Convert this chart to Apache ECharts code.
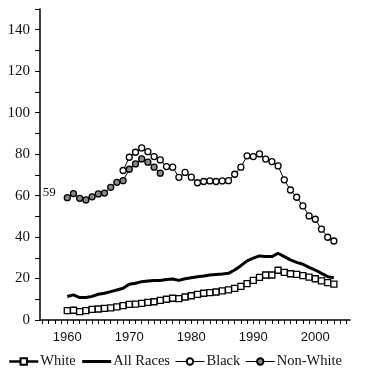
<!DOCTYPE html>
<html><head><meta charset="utf-8">
<script src="https://cdn.jsdelivr.net/npm/echarts@6/dist/echarts.min.js"></script>
<style>html,body{margin:0;padding:0;background:#fff}#c{width:366px;height:376px}</style>
</head><body><div id="c"></div>
<script>
const years = [1960,1961,1962,1963,1964,1965,1966,1967,1968,1969,1970,1971,1972,1973,1974,1975,1976,1977,1978,1979,1980,1981,1982,1983,1984,1985,1986,1987,1988,1989,1990,1991,1992,1993,1994,1995,1996,1997,1998,1999,2000,2001,2002,2003];
const white = [4.5,4.7,4.0,4.5,5.1,5.3,5.6,5.8,6.3,6.9,7.5,7.7,8.0,8.5,8.8,9.5,10.0,10.5,10.3,11.1,11.7,12.4,12.9,13.2,13.5,14.0,14.5,15.3,16.2,17.5,19.1,20.6,21.7,21.7,24.0,23.0,22.3,22.0,21.4,20.7,19.9,18.9,18.0,17.3];
const allRaces = [11.3,12.1,10.8,10.9,11.4,12.4,12.9,13.7,14.5,15.3,17.2,17.7,18.5,18.8,19.0,19.1,19.5,19.8,19.1,19.9,20.4,20.9,21.2,21.7,22.0,22.2,22.5,24.1,26.2,28.5,29.8,30.9,30.6,30.6,32.2,30.6,29.0,27.8,26.9,25.4,24.1,22.5,20.9,20.4];
const blackYears = [1969,1970,1971,1972,1973,1974,1975,1976,1977,1978,1979,1980,1981,1982,1983,1984,1985,1986,1987,1988,1989,1990,1991,1992,1993,1994,1995,1996,1997,1998,1999,2000,2001,2002,2003];
const black = [72.1,78.5,80.9,83.0,81.2,78.8,77.2,74.0,73.7,68.8,71.2,68.9,66.2,66.8,67.1,66.8,67.1,67.2,70.3,73.7,79.2,78.8,80.1,77.6,76.4,74.3,67.6,62.7,59.2,55.0,50.2,48.6,43.8,39.9,38.1];
const nonWhiteYears = [1960,1961,1962,1963,1964,1965,1966,1967,1968,1969,1970,1971,1972,1973,1974,1975];
const nonWhite = [59.0,61.0,58.7,57.9,59.4,60.8,61.2,64.0,66.4,67.2,72.7,75.3,77.7,76.1,73.7,70.8];
const xLabels = [1960,1970,1980,1990,2000];
const xTicks = []; for (let y = 1956; y <= 2005; y++) xTicks.push(y);
const seriesNames = ['White','All Races','Black','Non-White'];

const pair = (xs, vs) => xs.map((x, i) => [x, vs[i]]);
const serif = 'Liberation Serif, Times New Roman, serif';
const legendLineWidths = {'White': 2.5, 'All Races': 3, 'Black': 1, 'Non-White': 1};

const chart = echarts.init(document.getElementById('c'), null, {renderer: 'canvas'});
chart.setOption({
  animation: false,
  grid: {left: 40, right: 16, top: 9, bottom: 56},
  xAxis: {
    type: 'value', min: 1955.6, max: 2005.6,
    splitLine: {show: false},
    axisLine: {lineStyle: {color: '#000', width: 1.5}},
    axisTick: {show: true, customValues: xTicks, length: 4, lineStyle: {color: '#000'}},
    axisLabel: {customValues: xLabels, margin: 11, color: '#111',
      formatter: v => String(v),
      fontFamily: 'Liberation Sans Narrow, Arial Narrow, Liberation Sans, sans-serif', fontSize: 13}
  },
  yAxis: {
    type: 'value', min: 0, max: 150, interval: 10,
    splitLine: {show: false},
    axisLine: {show: true, lineStyle: {color: '#000', width: 1.5}},
    axisTick: {show: true, length: 5, lineStyle: {color: '#000'}},
    axisLabel: {margin: 10, color: '#111', fontFamily: serif, fontSize: 15,
      formatter: v => (v % 20 === 0 ? String(v) : '')}
  },
  legend: {
    left: 3, top: 349, width: 366, itemGap: 5, itemWidth: 29, itemHeight: 8,
    data: seriesNames.map(n => {
      const item = {name: n, lineStyle: {width: legendLineWidths[n], color: '#000'}};
      if (n === 'All Races') item.itemStyle = {opacity: 0};
      return item;
    }),
    textStyle: {fontFamily: serif, fontSize: 14.5, color: '#111', padding: [0, 0, 0, -3]}
  },
  series: [
    {name: 'White', type: 'line', data: pair(years, white),
      symbol: 'rect', symbolSize: 6, showAllSymbol: true,
      lineStyle: {color: '#000', width: 2.5},
      itemStyle: {color: '#fff', borderColor: '#000', borderWidth: 1.3}},
    {name: 'All Races', type: 'line', data: pair(years, allRaces),
      symbol: 'none', lineStyle: {color: '#000', width: 3}, itemStyle: {color: '#000'}},
    {name: 'Black', type: 'line', data: pair(blackYears, black),
      symbol: 'circle', symbolSize: 6, showAllSymbol: true,
      lineStyle: {color: '#000', width: 1},
      itemStyle: {color: '#fff', borderColor: '#000', borderWidth: 1.3}},
    {name: 'Non-White', type: 'line',
      data: pair(nonWhiteYears, nonWhite).map((d, i) => i === 0 ? {value: d, label: {show: true, position: 'left', distance: 8, offset: [0, -5], formatter: '59', fontFamily: serif, fontSize: 13, color: '#111'}} : d),
      symbol: 'circle', symbolSize: 6, showAllSymbol: true,
      lineStyle: {color: '#000', width: 1},
      itemStyle: {color: '#8a8a8a', borderColor: '#000', borderWidth: 1.3}}
  ]
});
</script></body></html>
